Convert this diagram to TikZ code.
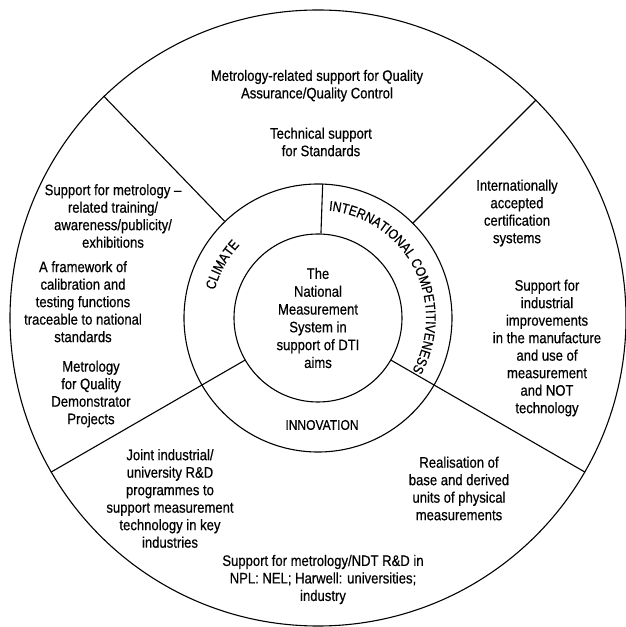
\documentclass[tikz,border=0pt]{standalone}
\usepackage{fontspec}
\setmainfont[FakeStretch=0.86, FakeBold=0.5]{Liberation Sans}
\usetikzlibrary{decorations.text}
\begin{document}
\begin{tikzpicture}[x=1pt,y=1pt,
  disc/.style={circle, draw, line width=1.1pt, inner sep=0pt},
  spoke/.style={line width=1.1pt},
  blurb/.style={align=center, inner sep=0pt, font=\fontsize{15.2}{17.5}\selectfont},
  sector/.style={inner sep=0pt, font=\fontsize{14}{16}\selectfont}]
\useasboundingbox (0,0) rectangle (625,627);
\coordinate (c) at (318,309);

% three concentric rings
\node[disc, minimum size=616pt] (outer) at (c) {};
\node[disc, minimum size=268pt] (middle) at (c) {};
\node[disc, minimum size=168pt, align=center,
      font=\fontsize{15.2}{17.8}\selectfont] (hub) at (c)
  {The\\National\\Measurement\\System in\\support of DTI\\aims};

% spokes
\draw[spoke] (outer.134) -- (middle.134);
\draw[spoke] (outer.45) -- (middle.45);
\draw[spoke] (outer.210) -- (hub.210);
\draw[spoke] (outer.-30) -- (hub.-30);
\draw[spoke] (middle.88) -- (hub.88);

% labels of the middle ring
\path[decorate, decoration={text along path, text align=center,
  text={|\fontsize{14}{16}\selectfont|INTERNATIONAL COMPETITIVENESS}}]
  ([shift={(88:108)}]c) arc[start angle=88, end angle=-33, radius=108];
\path[decorate, decoration={text along path, text align=center,
  text={|\fontsize{14}{16}\selectfont|CLIMATE}}]
  ([shift={(178:107)}]c) arc[start angle=178, end angle=124, radius=107];
\node[sector] (innov) at (322,202) {INNOVATION};

% outer ring texts
\node[blurb] (qa) at (317,541.3) {Metrology-related support for Quality\\Assurance/Quality Control};
\node[blurb] (tech) at (321,485) {Technical support\\for Standards};
\node[blurb] (train) at (113,411) {Support for metrology –\\related training/\\awareness/publicity/\\exhibitions};
\node[blurb] (calib) at (83,325.3) {A framework of\\calibration and\\testing functions\\traceable to national\\standards};
\node[blurb] (demo) at (91,233) {Metrology\\for Quality\\Demonstrator\\Projects};
\node[blurb] (cert) at (517,414) {Internationally\\accepted\\certification\\systems};
\node[blurb] (indus) at (547,279) {Support for\\industrial\\improvements\\in the manufacture\\and use of\\measurement\\and NOT\\technology};
\node[blurb] (joint) at (170,128.5) {Joint industrial/\\university R\&D\\programmes to\\support measurement\\technology in key\\industries};
\node[blurb] (units) at (459,138.5) {Realisation of\\base and derived\\units of physical\\measurements};
\node[blurb] (ndt) at (323,47.5) {Support for metrology/NDT R\&D in\\NPL: NEL; Harwell: universities;\\industry};
\end{tikzpicture}
\end{document}
